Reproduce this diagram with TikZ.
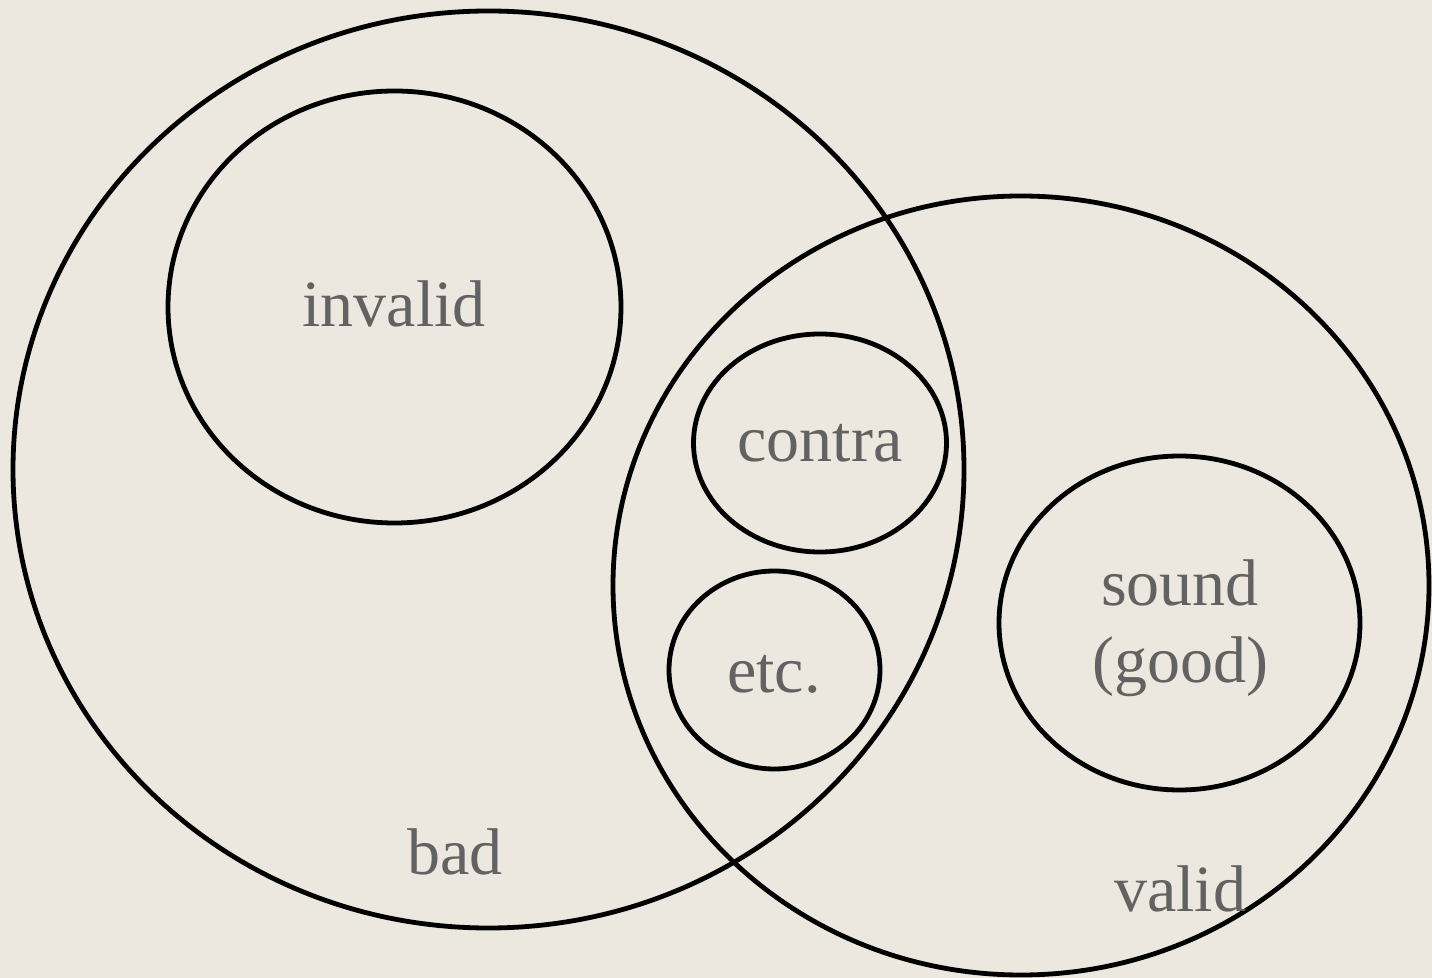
\documentclass[tikz,border=0pt]{standalone}
\usepackage{fontspec}
\setmainfont{Liberation Serif}
\definecolor{paper}{HTML}{ECE8DF}
\definecolor{ink}{HTML}{626262}
\begin{document}
\begin{tikzpicture}[x=0.5pt,y=-0.5pt,
  ring/.style={draw=black,line width=2.4pt},
  lbl/.style={text=ink,font=\fontsize{33}{38.5}\selectfont,anchor=base,inner sep=0pt,align=center}]
\fill[paper] (0,0) rectangle (1432,978);
\useasboundingbox (0,0) rectangle (1432,978);
\draw[ring] (488.5,469.5) ellipse [x radius=237.75pt, y radius=229.25pt];
\draw[ring] (1021,585.5) ellipse [x radius=204pt, y radius=194.75pt];
\draw[ring] (394.5,307) ellipse [x radius=113.25pt, y radius=108pt];
\draw[ring] (820,443) ellipse [x radius=63.25pt, y radius=54.5pt];
\draw[ring] (774.5,670) ellipse [x radius=52.75pt, y radius=49.5pt];
\draw[ring] (1179.5,623) ellipse [x radius=90.25pt, y radius=83.5pt];
\node[lbl] (invalid) at (394,327) {invalid};
\node[lbl] (contra) at (820,462) {contra};
\node[lbl] (etc) at (774,693) {etc.};
\node[lbl] (sound) at (1180,606) {sound};
\node[lbl] (good) at (1180,683) {(good)};
\node[lbl] (bad) at (455,875) {bad};
\node[lbl] (valid) at (1180,912) {valid};
\end{tikzpicture}
\end{document}
